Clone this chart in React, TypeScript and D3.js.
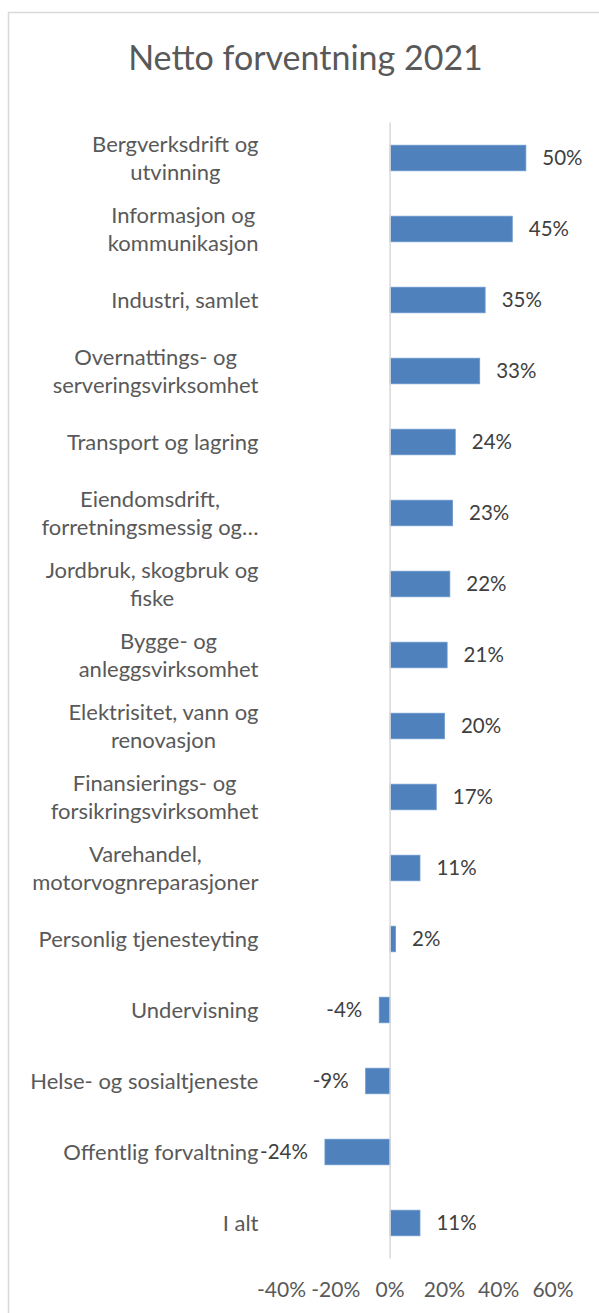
import React, { useEffect, useRef } from "react";
import * as d3 from "d3";

// data
const categories = [
  ["Bergverksdrift og", "utvinning"],
  ["Informasjon og", "kommunikasjon"],
  ["Industri, samlet"],
  ["Overnattings- og", "serveringsvirksomhet"],
  ["Transport og lagring"],
  ["Eiendomsdrift,", "forretningsmessig og…"],
  ["Jordbruk, skogbruk og", "fiske"],
  ["Bygge- og", "anleggsvirksomhet"],
  ["Elektrisitet, vann og", "renovasjon"],
  ["Finansierings- og", "forsikringsvirksomhet"],
  ["Varehandel,", "motorvognreparasjoner"],
  ["Personlig tjenesteyting"],
  ["Undervisning"],
  ["Helse- og sosialtjeneste"],
  ["Offentlig forvaltning"],
  ["I alt"],
];
const values = [50, 45, 35, 33, 24, 23, 22, 21, 20, 17, 11, 2, -4, -9, -24, 11];
const ticks = [-40, -20, 0, 20, 40, 60];

const W = 599;
const H = 1313;
const FONT = "Lato, 'Open Sans', sans-serif";

export default function App() {
  const ref = useRef<SVGSVGElement>(null);

  useEffect(() => {
    const svg = d3.select(ref.current);
    svg.selectAll("*").remove();

    const x = d3.scaleLinear().domain([-40, 60]).range([281.5, 553]);
    const y = d3
      .scaleBand<number>()
      .domain(d3.range(categories.length))
      .range([122.5, 1258.5])
      .paddingInner(0.64)
      .paddingOuter(0.32);

    // chart frame
    svg
      .append("rect")
      .attr("x", 8.5)
      .attr("y", 12.5)
      .attr("width", 620)
      .attr("height", 1330)
      .attr("fill", "#fff")
      .attr("stroke", "#d9d9d9")
      .attr("stroke-width", 1.5);

    svg
      .append("text")
      .attr("x", 305.5)
      .attr("y", 70)
      .attr("text-anchor", "middle")
      .attr("font-family", FONT)
      .attr("font-size", 34)
      .attr("fill", "#595959")
      .text("Netto forventning 2021");

    // bars
    svg
      .append("g")
      .selectAll("rect")
      .data(values)
      .join("rect")
      .attr("x", (d) => x(Math.min(0, d)))
      .attr("y", (d, i) => y(i)!)
      .attr("width", (d) => Math.abs(x(d) - x(0)))
      .attr("height", y.bandwidth())
      .attr("fill", "#4f81bd")
      .attr("stroke", "#6a96cb")
      .attr("stroke-width", 0.8);

    // zero line
    svg
      .append("line")
      .attr("x1", x(0))
      .attr("x2", x(0))
      .attr("y1", 122.5)
      .attr("y2", 1258.5)
      .attr("stroke", "#d9d9d9")
      .attr("stroke-width", 1.5);

    // value labels
    svg
      .append("g")
      .selectAll("text")
      .data(values)
      .join("text")
      .attr("x", (d) => (d >= 0 ? x(d) + 16.5 : x(d) - 17))
      .attr("y", (d, i) => y(i)! + y.bandwidth() / 2)
      .attr("dy", "0.35em")
      .attr("text-anchor", (d) => (d >= 0 ? "start" : "end"))
      .attr("font-family", FONT)
      .attr("font-size", 20.5)
      .attr("fill", "#404040")
      .text((d) => d + "%");

    // category labels, lines centred within a right-aligned block
    const labelRight = 258.5;
    const lineH = 28;
    categories.forEach((lines, i) => {
      const g = svg.append("g");
      const cy = y(i)! + y.bandwidth() / 2;
      const texts = lines.map((l, k) =>
        g
          .append("text")
          .attr("y", cy + (k - (lines.length - 1) / 2) * lineH)
          .attr("dy", "0.35em")
          .attr("text-anchor", "middle")
          .attr("font-family", FONT)
          .attr("font-size", 22)
          .attr("fill", "#595959")
          .text(l)
      );
      const widths = texts.map((t) => (t.node() as SVGTextElement).getComputedTextLength());
      const cx = labelRight - d3.max(widths)! / 2;
      texts.forEach((t) => t.attr("x", cx));
    });

    // x axis tick labels
    svg
      .append("g")
      .selectAll("text")
      .data(ticks)
      .join("text")
      .attr("x", (d) => x(d))
      .attr("y", 1290)
      .attr("dy", "0.35em")
      .attr("text-anchor", "middle")
      .attr("font-family", FONT)
      .attr("font-size", 21)
      .attr("fill", "#595959")
      .text((d) => d + "%");
  }, []);

  return (
    <svg
      ref={ref}
      width={W}
      height={H}
      style={{ position: "absolute", left: 0, top: 0, display: "block" }}
    />
  );
}
